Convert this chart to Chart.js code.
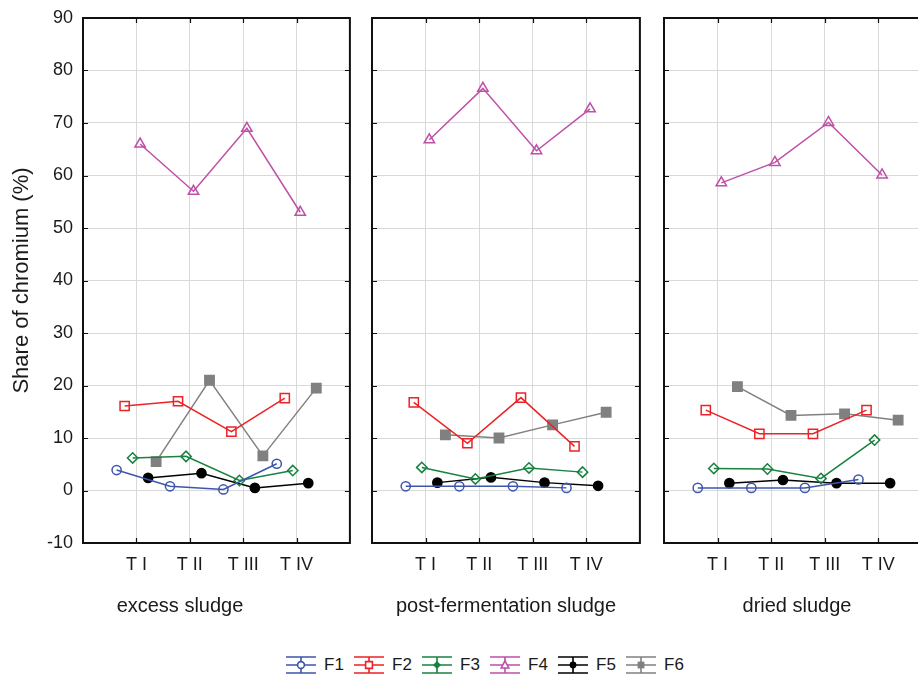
<!DOCTYPE html>
<html>
<head>
<meta charset="utf-8">
<script src="https://cdn.jsdelivr.net/npm/chart.js@4"></script>
<style>
body{margin:0;width:918px;height:677px;overflow:hidden;background:#fff;font-family:Arial,"Liberation Sans",sans-serif;color:#1a1a1a}
.panel{position:absolute;top:0;height:600px}
.group{position:absolute;top:594px;font-size:20px;white-space:nowrap;transform:translateX(-50%)}
#legend{position:absolute;left:285px;top:655px;display:flex;align-items:center}
.item{display:flex;align-items:center;width:68px}
.item span{font-size:17px;margin-left:7px}
</style>
</head>
<body>
<div class="panel" style="left:0;width:358px"><canvas id="c1"></canvas></div>
<div class="panel" style="left:362px;width:286px"><canvas id="c2"></canvas></div>
<div class="panel" style="left:654px;width:286px"><canvas id="c3"></canvas></div>
<div class="group" style="left:180px">excess sludge</div>
<div class="group" style="left:506px">post-fermentation sludge</div>
<div class="group" style="left:797px">dried sludge</div>
<div id="legend"></div>
<script>
const stages = ["T I", "T II", "T III", "T IV"]
const series = ["F1", "F2", "F3", "F4", "F5", "F6"]

// excess sludge
const excessF1 = [3.9, 0.8, 0.2, 5.1]
const excessF2 = [16.1, 17.0, 11.2, 17.6]
const excessF3 = [6.2, 6.5, 1.9, 3.8]
const excessF4 = [66.0, 57.0, 69.0, 53.0]
const excessF5 = [2.4, 3.3, 0.5, 1.4]
const excessF6 = [5.5, 21.0, 6.6, 19.5]

// post-fermentation sludge
const postF1 = [0.8, 0.8, 0.8, 0.5]
const postF2 = [16.8, 9.0, 17.7, 8.4]
const postF3 = [4.4, 2.2, 4.3, 3.5]
const postF4 = [66.8, 76.6, 64.7, 72.7]
const postF5 = [1.5, 2.5, 1.5, 0.9]
const postF6 = [10.6, 10.0, 12.5, 14.9]

// dried sludge
const driedF1 = [0.5, 0.5, 0.5, 2.1]
const driedF2 = [15.3, 10.8, 10.8, 15.3]
const driedF3 = [4.2, 4.1, 2.3, 9.6]
const driedF4 = [58.6, 62.5, 70.1, 60.1]
const driedF5 = [1.4, 2.0, 1.4, 1.4]
const driedF6 = [19.8, 14.3, 14.6, 13.4]

const yTicks = [-10, 0, 10, 20, 30, 40, 50, 60, 70, 80, 90]

const colors = ["#3d55ad", "#ec2227", "#18823f", "#bf4fa9", "#000000", "#808080"]
const styles = ["circle", "rect", "rectRot", "triangle", "circle", "rect"]
const radius = [4.6, 6.5, 5.2, 6, 4.6, 6.6]
const filled = [false, false, false, false, true, true]
// each fraction sits a little to the side of its stage
const dodge = [-0.37, -0.22, -0.07, 0.07, 0.22, 0.37]

const frame = {
    id: "frame",
    afterDraw(chart) {
        const {ctx, chartArea: a, scales: {x, y}} = chart
        ctx.save()
        ctx.strokeStyle = "#111"
        ctx.lineWidth = 1.2
        ctx.beginPath()
        for (const v of yTicks) {
            const py = Math.round(y.getPixelForValue(v)) + 0.5
            ctx.moveTo(a.left, py); ctx.lineTo(a.left + 5, py)
            ctx.moveTo(a.right, py); ctx.lineTo(a.right - 5, py)
        }
        for (let i = 1; i <= stages.length; i++) {
            const px = Math.round(x.getPixelForValue(i)) + 0.5
            ctx.moveTo(px, a.top); ctx.lineTo(px, a.top + 5)
            ctx.moveTo(px, a.bottom); ctx.lineTo(px, a.bottom - 5)
        }
        ctx.stroke()
        ctx.lineWidth = 2
        ctx.strokeRect(a.left, a.top, a.width, a.height)
        ctx.restore()
    }
}

function makePanel(id, groups, yWidth, showY) {
    const datasets = groups.map((vals, s) => ({
        label: series[s],
        data: vals.map((v, i) => ({x: i + 1 + dodge[s], y: v})),
        borderColor: colors[s],
        borderWidth: 1.5,
        pointStyle: styles[s],
        pointRadius: radius[s],
        pointBorderWidth: 1.5,
        pointBorderColor: colors[s],
        pointBackgroundColor: filled[s] ? colors[s] : "rgba(0,0,0,0)",
        tension: 0
    }))
    new Chart(document.getElementById(id), {
        type: "line",
        data: {datasets},
        options: {
            responsive: true,
            maintainAspectRatio: false,
            animation: false,
            layout: {padding: {top: 18, right: 2, left: 0, bottom: 0}},
            plugins: {legend: {display: false}, tooltip: {enabled: false}},
            scales: {
                x: {
                    type: "linear", min: 0, max: 5,
                    afterFit: (scale) => {
                        scale.height = 57
                        scale.paddingLeft = 0
                        scale.paddingRight = 0
                    },
                    border: {display: false},
                    grid: {
                        drawTicks: false,
                        color: (c) => (c.tick && c.tick.value >= 1 && c.tick.value <= 4) ? "#d9d9d9" : "rgba(0,0,0,0)"
                    },
                    ticks: {
                        stepSize: 1, padding: 11, color: "#1a1a1a",
                        font: {family: "Arial, 'Liberation Sans'", size: 18},
                        callback: (v) => stages[v - 1] || ""
                    }
                },
                y: {
                    min: -10, max: 90,
                    afterFit: (scale) => {
                        scale.width = yWidth
                        scale.paddingTop = 0
                        scale.paddingBottom = 0
                    },
                    border: {display: false},
                    grid: {drawTicks: false, color: "#d9d9d9"},
                    ticks: {
                        display: showY, stepSize: 10, padding: 10, color: "#1a1a1a",
                        font: {family: "Arial, 'Liberation Sans'", size: 18}
                    },
                    title: {
                        display: showY, text: "Share of chromium (%)", color: "#1a1a1a",
                        font: {family: "Arial, 'Liberation Sans'", size: 22},
                        padding: {top: 9, bottom: 0}
                    }
                }
            }
        },
        plugins: [frame]
    })
}

makePanel("c1", [excessF1, excessF2, excessF3, excessF4, excessF5, excessF6], 83, true)
makePanel("c2", [postF1, postF2, postF3, postF4, postF5, postF6], 10, false)
makePanel("c3", [driedF1, driedF2, driedF3, driedF4, driedF5, driedF6], 10, false)

// legend: whisker style symbol with the fraction marker in the middle
const legend = document.getElementById("legend")
series.forEach((name, s) => {
    const item = document.createElement("div")
    item.className = "item"
    const cv = document.createElement("canvas")
    cv.width = 32; cv.height = 20
    const g = cv.getContext("2d")
    g.strokeStyle = colors[s]; g.fillStyle = colors[s]; g.lineWidth = 1.6
    g.beginPath()
    for (const yy of [2, 10, 18]) { g.moveTo(1, yy); g.lineTo(31, yy) }
    g.moveTo(16, 2); g.lineTo(16, 18)
    g.stroke()
    g.beginPath()
    const cx = 16, cy = 10
    if (styles[s] == "circle") g.arc(cx, cy, 3.4, 0, Math.PI * 2)
    else if (styles[s] == "rect") g.rect(cx - 3.4, cy - 3.4, 6.8, 6.8)
    else if (styles[s] == "rectRot") { g.moveTo(cx, cy - 4); g.lineTo(cx + 4, cy); g.lineTo(cx, cy + 4); g.lineTo(cx - 4, cy); g.closePath() }
    else { g.moveTo(cx, cy - 4.2); g.lineTo(cx + 3.8, cy + 3); g.lineTo(cx - 3.8, cy + 3); g.closePath() }
    if (filled[s] || styles[s] == "rectRot") g.fill()
    else { g.fillStyle = "#fff"; g.fill(); g.stroke() }
    item.appendChild(cv)
    const t = document.createElement("span")
    t.textContent = name
    item.appendChild(t)
    legend.appendChild(item)
})
</script>
</body>
</html>
